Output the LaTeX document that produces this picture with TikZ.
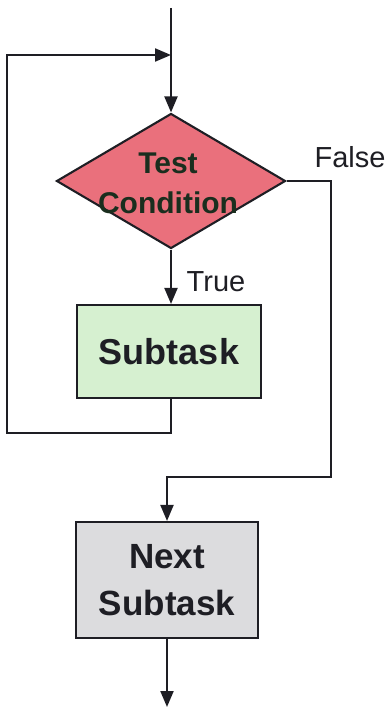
\documentclass[tikz,border=0pt]{standalone}
\usepackage{fontspec}
\setmainfont{Liberation Sans}
\usetikzlibrary{shapes.geometric,arrows.meta}
\definecolor{condfill}{RGB}{234,112,124}
\definecolor{subfill}{RGB}{214,240,208}
\definecolor{nextfill}{RGB}{220,220,222}
\definecolor{ink}{RGB}{30,30,36}
\definecolor{condink}{RGB}{26,46,30}
\tikzset{
  flow/.style={line width=2.1pt, draw=ink},
  arr/.style={flow, -{Triangle[length=16pt,width=13pt]}},
  taskbox/.style={draw=ink, line width=2.1pt, rectangle, inner sep=0pt},
  lbl/.style={font=\fontsize{29}{32}\selectfont, text=ink, inner sep=0pt},
}
\begin{document}
\begin{tikzpicture}[x=1pt,y=-1pt]
\useasboundingbox (0,0) rectangle (391,709);

% decision
\node[draw=ink, line width=2.1pt, fill=condfill, shape=diamond, inner sep=0pt,
      minimum width=229pt, minimum height=135pt] (cond) at (171,181) {};
\node[font=\bfseries\fontsize{30}{40}\selectfont, text=condink, align=center, inner sep=0pt]
      (condtxt) at (168,183) {Test\\Condition};

% loop body
\node[taskbox, fill=subfill, minimum width=184pt, minimum height=93pt,
      font=\bfseries\fontsize{36}{40}\selectfont, text=ink] (sub) at (169,351.5) {Subtask};

% following step
\node[taskbox, fill=nextfill, minimum width=182pt, minimum height=116pt,
      font=\bfseries\fontsize{35}{47}\selectfont, text=ink, align=center] (next) at (167,580) {Next\\Subtask};

% connection points
\coordinate (start) at (171,8);
\coordinate (join) at (171,55);
\coordinate (loopbl) at (7,433);
\coordinate (looptl) at (7,55);
\coordinate (falsetr) at (331,181);
\coordinate (falsebr) at (331,477);
\coordinate (end) at (167,707);

% entry and loop back
\draw[arr] (start) -- (cond.north);
\draw[arr] (cond.south) -- (cond.south |- sub.north);
\draw[arr] (cond.south |- sub.south) -- (cond.south |- loopbl) -- (loopbl) -- (looptl) -- (join);

% exit on false
\draw[arr] (cond.east) -- (falsetr) -- (falsebr) -- (next.north |- falsebr) -- (next.north);
\draw[arr] (next.south) -- (end);

% branch labels
\node[lbl] (truelbl) at (216,282) {True};
\node[lbl] (falselbl) at (350,157) {False};
\end{tikzpicture}
\end{document}
